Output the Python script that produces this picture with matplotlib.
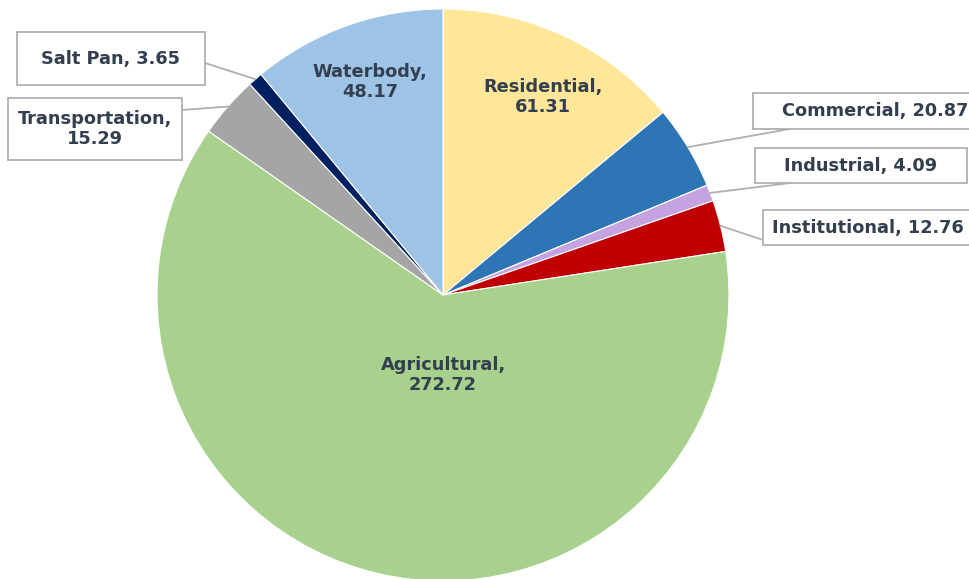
import numpy as np
import matplotlib
matplotlib.use("Agg")
import matplotlib.pyplot as plt
from matplotlib.patches import Rectangle

categories = ["Residential", "Commercial", "Industrial", "Institutional",
              "Agricultural", "Transportation", "Salt Pan", "Waterbody"]
values = [61.31, 20.87, 4.09, 12.76, 272.72, 15.29, 3.65, 48.17]
colors = ["#FFE699", "#2E75B6", "#C5A3E0", "#C00000",
          "#A9D18E", "#A5A5A5", "#002060", "#9DC3E6"]

W, H = 970, 579
fig = plt.figure(figsize=(W / 100, H / 100), dpi=100)
ax = fig.add_axes([0, 0, 1, 1])

cx, cy, R = 443, H - 295, 286
wedges, _ = ax.pie(values, colors=colors, startangle=90, counterclock=False,
                   center=(cx, cy), radius=R, frame=True,
                   wedgeprops=dict(edgecolor="white", linewidth=0.8))
ax.set_xlim(0, W)
ax.set_ylim(0, H)
ax.set_aspect("equal")
ax.axis("off")

FONT = "DejaVu Sans"
TC = "#333F4F"
FS = 12.8
BOXC = "#B0B0B0"


def edge_point(w, frac=1.0):
    a = np.deg2rad((w.theta1 + w.theta2) / 2)
    return cx + R * frac * np.cos(a), cy + R * frac * np.sin(a)


def Y(y):
    return H - y

# inside labels
inside = {"Waterbody": (370, 82), "Residential": (543, 97), "Agricultural": (443, 375)}
for i, name in enumerate(categories):
    if name in inside:
        x, y = inside[name]
        ax.text(x, Y(y), f"{name},\n{values[i]:.2f}", ha="center", va="center",
                fontsize=FS, fontweight="bold", color=TC, family=FONT,
                linespacing=1.2)

# boxed labels: box (x0, y0, x1, y1) in image coords, anchor point, two-line flag
boxes = {
    "Salt Pan": ((17, 32, 205, 85), (205, 63), False),
    "Transportation": ((8, 98, 182, 160), (182, 110), True),
    "Commercial": ((753, 93, 985, 129), (790, 129), False),
    "Industrial": ((755, 148, 967, 183), (790, 183), False),
    "Institutional": ((763, 210, 985, 245), (763, 240), False),
}
text_x = {"Commercial": 875, "Institutional": 868}
for i, name in enumerate(categories):
    if name not in boxes:
        continue
    (x0, y0, x1, y1), (axp, ayp), twoline = boxes[name]
    ex, ey = edge_point(wedges[i])
    ax.plot([ex, axp], [ey, Y(ayp)], color=BOXC, lw=1.3, zorder=3)
    ax.add_patch(Rectangle((x0, Y(y1)), x1 - x0, y1 - y0, facecolor="white",
                           edgecolor=BOXC, lw=1.3, zorder=4))
    label = f"{name},\n{values[i]:.2f}" if twoline else f"{name}, {values[i]:.2f}"
    tx = text_x.get(name, (x0 + x1) / 2)
    ax.text(tx, Y((y0 + y1) / 2), label,
            ha="center", va="center", fontsize=FS, fontweight="bold", color=TC,
            family=FONT, zorder=5, linespacing=1.2)

fig.savefig("out.png", dpi=100)
